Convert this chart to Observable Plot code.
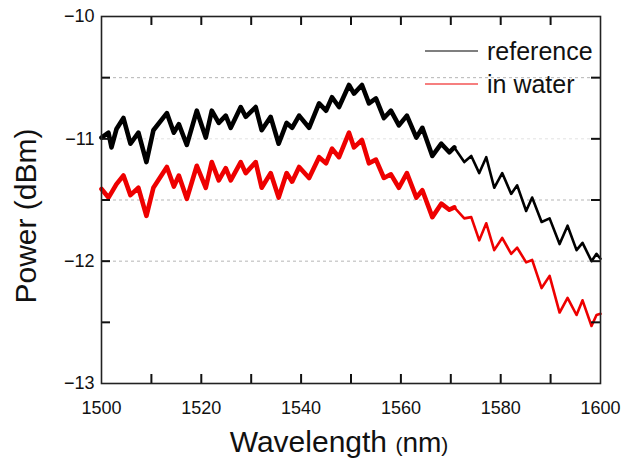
<!DOCTYPE html>
<html>
<head>
<meta charset="utf-8">
<script src="https://cdn.jsdelivr.net/npm/d3@7"></script>
<script src="https://cdn.jsdelivr.net/npm/@observablehq/plot@0.6"></script>
<style>
  html, body { margin: 0; padding: 0; background: #fff; }
  #chart { width: 624px; height: 459px; }
</style>
</head>
<body>
<div id="chart"></div>
<script>
// Wavelength samples (nm)
const wavelength = [
  1500.0, 1501.4, 1502.0, 1503.0, 1504.4, 1505.8, 1507.4, 1509.0, 1510.4, 1513.1,
  1514.5, 1515.5, 1517.1, 1519.1, 1520.9, 1522.1, 1523.5, 1524.9, 1525.9, 1527.9,
  1528.9, 1530.9, 1532.1, 1533.9, 1535.5, 1537.1, 1538.2, 1539.6, 1541.6, 1543.6,
  1545.0, 1546.2, 1547.6, 1549.6, 1550.6, 1552.2, 1553.6, 1555.0, 1556.6, 1558.0,
  1559.6, 1561.2, 1563.1, 1564.3, 1566.3, 1568.1, 1569.7, 1570.7, 1572.7, 1574.1,
  1575.7, 1577.1, 1578.7, 1580.3, 1582.1, 1583.3, 1585.1, 1586.3, 1588.2, 1589.8,
  1591.8, 1593.4, 1595.2, 1596.4, 1598.2, 1599.2, 1600.0
];
// Power, reference (dBm)
const referencePower = [
  -10.99, -10.95, -11.07, -10.92, -10.83, -11.04, -10.95, -11.19, -10.93, -10.79,
  -10.95, -10.88, -11.05, -10.77, -10.99, -10.77, -10.87, -10.81, -10.91, -10.74,
  -10.82, -10.74, -10.93, -10.82, -11.04, -10.87, -10.91, -10.81, -10.91, -10.71,
  -10.77, -10.66, -10.74, -10.56, -10.63, -10.56, -10.71, -10.67, -10.83, -10.77,
  -10.89, -10.81, -10.99, -10.91, -11.14, -11.04, -11.11, -11.07, -11.19, -11.14,
  -11.28, -11.15, -11.40, -11.28, -11.45, -11.38, -11.59, -11.48, -11.68, -11.65,
  -11.86, -11.71, -11.91, -11.85, -12.00, -11.94, -11.98
];
// Power, in water (dBm)
const waterPower = [
  -11.41, -11.48, -11.44, -11.37, -11.30, -11.46, -11.40, -11.63, -11.40, -11.23,
  -11.39, -11.30, -11.49, -11.22, -11.40, -11.19, -11.34, -11.24, -11.34, -11.19,
  -11.28, -11.19, -11.40, -11.28, -11.48, -11.28, -11.35, -11.23, -11.32, -11.15,
  -11.20, -11.08, -11.15, -10.95, -11.07, -11.01, -11.20, -11.17, -11.32, -11.29,
  -11.40, -11.28, -11.48, -11.42, -11.64, -11.53, -11.58, -11.56, -11.65, -11.64,
  -11.83, -11.69, -11.91, -11.81, -11.94, -11.89, -12.01, -11.99, -12.22, -12.12,
  -12.42, -12.30, -12.44, -12.32, -12.53, -12.44, -12.43
];
const seriesNames = ["reference", "in water"];
const xTickLabels = [1500, 1520, 1540, 1560, 1580, 1600];
const xTickMarks = [1510, 1520, 1530, 1540, 1550, 1560, 1570, 1580, 1590];
const yTickLabels = [-10, -11, -12, -13];
const yTickMarks = [-10.5, -11, -11.5, -12, -12.5];
const yGrid = [-10.5, -11.5, -12];
const yGridFaint = [-11];

const ref = wavelength.map((w, i) => ({wl: w, p: referencePower[i]}));
const wat = wavelength.map((w, i) => ({wl: w, p: waterPower[i]}));

const W = 624, H = 459, mL = 101, mR = 24, mT = 16, mB = 76;
const pw = W - mL - mR, ph = H - mT - mB, tk = 9;
const FONT = "'Liberation Sans', Arial, sans-serif";
const fmt = d => String(d).replace("-", "\u2212");

const chart = Plot.plot({
  width: W, height: H,
  marginLeft: mL, marginRight: mR, marginTop: mT, marginBottom: mB,
  style: {fontFamily: FONT, fontSize: "18px", background: "#fff", color: "#111"},
  x: {domain: [1500, 1600]},
  y: {domain: [-13, -10]},
  marks: [
    Plot.ruleY(yGrid, {stroke: "#b5b5b5", strokeDasharray: "3,3", strokeWidth: 1}),
    Plot.ruleY(yGridFaint, {stroke: "#e2e2e2", strokeDasharray: "3,3", strokeWidth: 1}),
    Plot.line(ref, {x: "wl", y: "p", stroke: "#000", strokeWidth: 2.6, strokeLinejoin: "round"}),
    Plot.line(ref.filter(d => d.wl <= 1572), {x: "wl", y: "p", stroke: "#000", strokeWidth: 4.6, strokeLinejoin: "round"}),
    Plot.line(wat, {x: "wl", y: "p", stroke: "#ee0000", strokeWidth: 2.6, strokeLinejoin: "round"}),
    Plot.line(wat.filter(d => d.wl <= 1572), {x: "wl", y: "p", stroke: "#ee0000", strokeWidth: 4.6, strokeLinejoin: "round"}),
    // inward tick marks on all four sides
    Plot.ruleX(xTickMarks, {x: d => d, insetTop: ph - tk, stroke: "#111", strokeWidth: 2}),
    Plot.ruleX(xTickMarks, {x: d => d, insetBottom: ph - tk, stroke: "#111", strokeWidth: 2}),
    Plot.ruleY(yTickMarks, {y: d => d, insetRight: pw - tk, stroke: "#111", strokeWidth: 2}),
    Plot.ruleY(yTickMarks, {y: d => d, insetLeft: pw - tk, stroke: "#111", strokeWidth: 2}),
    Plot.axisX(xTickLabels, {tickSize: 0, tickPadding: 18, label: null, tickFormat: d => String(d), fontSize: 18}),
    Plot.axisY(yTickLabels, {tickSize: 0, tickPadding: 7, label: null, tickFormat: fmt, fontSize: 18}),
    Plot.frame({stroke: "#222", strokeWidth: 1.6})
  ]
});

const svg = d3.select(chart);

// axis titles
const xt = svg.append("text")
  .attr("x", 339).attr("y", 452)
  .attr("text-anchor", "middle")
  .attr("font-family", FONT)
  .attr("fill", "#111")
  .attr("font-size", 30);
xt.append("tspan").text("Wavelength ");
xt.append("tspan").attr("font-size", 21).text("(");
xt.append("tspan").attr("font-size", 28).text("nm");
xt.append("tspan").attr("font-size", 21).text(")");

svg.append("text")
  .attr("transform", "translate(36,216) rotate(-90)")
  .attr("text-anchor", "middle")
  .attr("font-family", FONT)
  .attr("fill", "#111")
  .attr("font-size", 30)
  .text("Power (dBm)");

// legend
const legendColors = ["#000", "#ee0000"];
const lg = svg.append("g");
seriesNames.forEach((name, i) => {
  const y = 51 + i * 33;
  lg.append("line").attr("x1", 425).attr("x2", 478).attr("y1", y).attr("y2", y)
    .attr("stroke", legendColors[i]).attr("stroke-width", 1.2);
  lg.append("text").attr("x", 487).attr("y", y + 9)
    .attr("text-anchor", "start")
    .attr("font-family", FONT)
    .attr("font-size", 25).attr("fill", "#111").text(name);
});

document.getElementById("chart").appendChild(chart);
</script>
</body>
</html>
